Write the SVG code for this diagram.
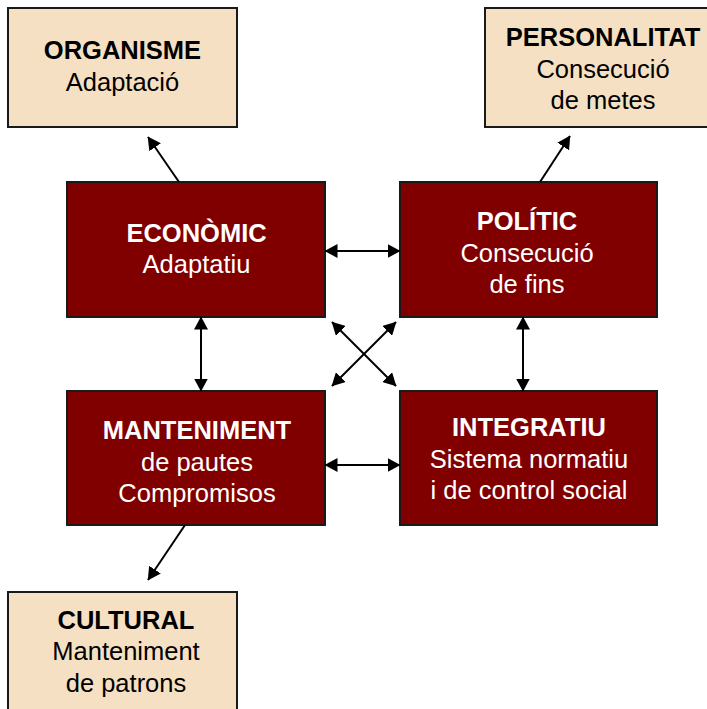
<svg xmlns="http://www.w3.org/2000/svg" width="707" height="709" viewBox="0 0 707 709">
<defs>
<style>
.beige{fill:#F5E0C3;stroke:#1a1a1a;stroke-width:2}
.red{fill:#800000;stroke:#1a1a1a;stroke-width:2}
text{font-family:"Liberation Sans",Arial,sans-serif;font-size:25.5px;text-anchor:middle}
.b{font-weight:bold}
.dk{fill:#000}
.wt{fill:#fff}
.con line{stroke:#000;stroke-width:2}
</style>
<marker id="ah" viewBox="0 0 13 14" refX="12.5" refY="7" markerWidth="13" markerHeight="14" markerUnits="userSpaceOnUse" orient="auto-start-reverse">
<path d="M0,0 L13,7 L0,14 z" fill="#000"/>
</marker>
</defs>
<rect width="707" height="709" fill="#fff"/>
<g id="organisme">
<rect class="beige" x="8" y="8" width="229" height="119"/>
<text class="b dk" x="122.5" y="59">ORGANISME</text>
<text class="dk" x="122.5" y="91">Adaptació</text>
</g>
<g id="personalitat">
<rect class="beige" x="485" y="8" width="225" height="119"/>
<text class="b dk" x="603" y="46">PERSONALITAT</text>
<text class="dk" x="603" y="78">Consecució</text>
<text class="dk" x="603" y="109">de metes</text>
</g>
<g id="economic">
<rect class="red" x="67" y="182" width="258" height="135"/>
<text class="b wt" x="196.5" y="242">ECONÒMIC</text>
<text class="wt" x="196.5" y="273">Adaptatiu</text>
</g>
<g id="politic">
<rect class="red" x="400" y="182" width="257" height="135"/>
<text class="b wt" x="527" y="230">POLÍTIC</text>
<text class="wt" x="527" y="262">Consecució</text>
<text class="wt" x="527" y="293">de fins</text>
</g>
<g id="manteniment">
<rect class="red" x="67" y="391" width="258" height="134"/>
<text class="b wt" x="197" y="439">MANTENIMENT</text>
<text class="wt" x="197" y="471">de pautes</text>
<text class="wt" x="197" y="502">Compromisos</text>
</g>
<g id="integratiu">
<rect class="red" x="400" y="391" width="257" height="134"/>
<text class="b wt" x="529" y="436">INTEGRATIU</text>
<text class="wt" x="529" y="468">Sistema normatiu</text>
<text class="wt" x="529" y="499">i de control social</text>
</g>
<g id="cultural">
<rect class="beige" x="8" y="592" width="229" height="125"/>
<text class="b dk" x="126" y="629">CULTURAL</text>
<text class="dk" x="126" y="660">Manteniment</text>
<text class="dk" x="126" y="692">de patrons</text>
</g>
<g class="con">
<line x1="179" y1="182" x2="148" y2="137" marker-end="url(#ah)"/>
<line x1="540" y1="182" x2="570" y2="136" marker-end="url(#ah)"/>
<line x1="185" y1="525" x2="148" y2="580" marker-end="url(#ah)"/>
<line x1="325" y1="251" x2="400" y2="251" marker-start="url(#ah)" marker-end="url(#ah)"/>
<line x1="325" y1="465" x2="400" y2="465" marker-start="url(#ah)" marker-end="url(#ah)"/>
<line x1="201" y1="317" x2="201" y2="391" marker-start="url(#ah)" marker-end="url(#ah)"/>
<line x1="523" y1="317" x2="523" y2="391" marker-start="url(#ah)" marker-end="url(#ah)"/>
<line x1="332" y1="322" x2="396" y2="386" marker-start="url(#ah)" marker-end="url(#ah)"/>
<line x1="396" y1="322" x2="332" y2="386" marker-start="url(#ah)" marker-end="url(#ah)"/>
</g>
</svg>
